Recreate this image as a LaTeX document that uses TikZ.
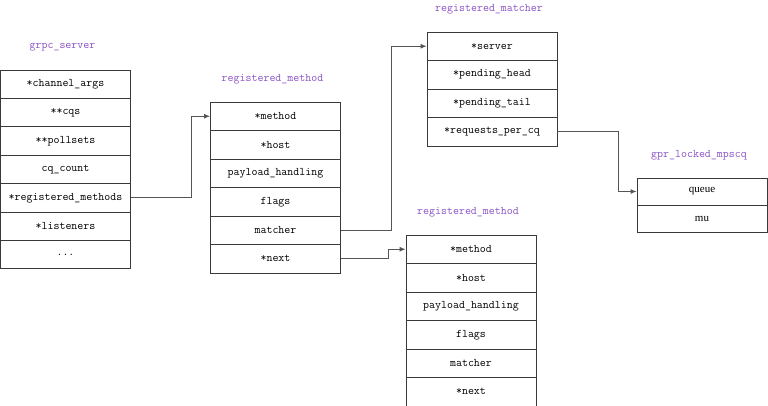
\documentclass[tikz,border=0pt]{standalone}
\usepackage{fontspec}
\setmainfont{Liberation Serif}
\usetikzlibrary{arrows.meta}
\definecolor{tagcol}{HTML}{8B52C6}
\definecolor{edge}{HTML}{3A3A3A}
\definecolor{wire}{HTML}{555555}
\tikzset{
  field/.style={draw=edge,line width=0.9pt,minimum width=130pt,inner sep=0pt,
                font=\ttfamily\fontsize{11.6}{13}\selectfont},
  structtag/.style={text=tagcol,inner sep=0pt,font=\ttfamily\fontsize{11.6}{13}\selectfont},
  link/.style={-{Latex[length=6pt,width=5pt]},line width=0.9pt,color=wire},
}

\begin{document}
\begin{tikzpicture}[x=1pt,y=-1pt]
    \useasboundingbox (0,0) rectangle (768,406);
    \foreach \pre/\x/\y/\h/\tag/\rows in {
      gs/65.5/70/28.4/grpc\_server/{*channel\_args,**cqs,**pollsets,cq\_count,*registered\_methods,*listeners,.{}.{}.},
      ra/275.5/102/28.5/registered\_method/{*method,*host,payload\_handling,flags,matcher,*next},
      mt/492/32/28.5/registered\_matcher/{*server,*pending\_head,*pending\_tail,*requests\_per\_cq},
      mq/702/178/27/gpr\_locked\_mpscq/{{\rmfamily\fontsize{11}{13}\selectfont queue},{\rmfamily\fontsize{11}{13}\selectfont mu}},
      rb/471/235/28.5/registered\_method/{*method,*host,payload\_handling,flags,matcher,*next}%
    }{
      \node[structtag] (\pre-t) at (\x-3,\y-23) {\tag};
      \foreach \lab [count=\i] in \rows {
        \node[field,minimum height=\h pt] (\pre\i) at (\x,{\y+\h*(\i-0.5)}) {\lab};
      }
    }
    \draw[link] (gs5.east) -- ++(60,0) |- (ra1.west);
    \draw[link] (ra5.east) -- ++(50,0) |- (mt1.west);
    \draw[link] (ra6.east) -- ++(47,0) |- (rb1.west);
    \draw[link] (mt4.east) -- ++(61,0) |- (mq1.west);
  \end{tikzpicture}
\end{document}
